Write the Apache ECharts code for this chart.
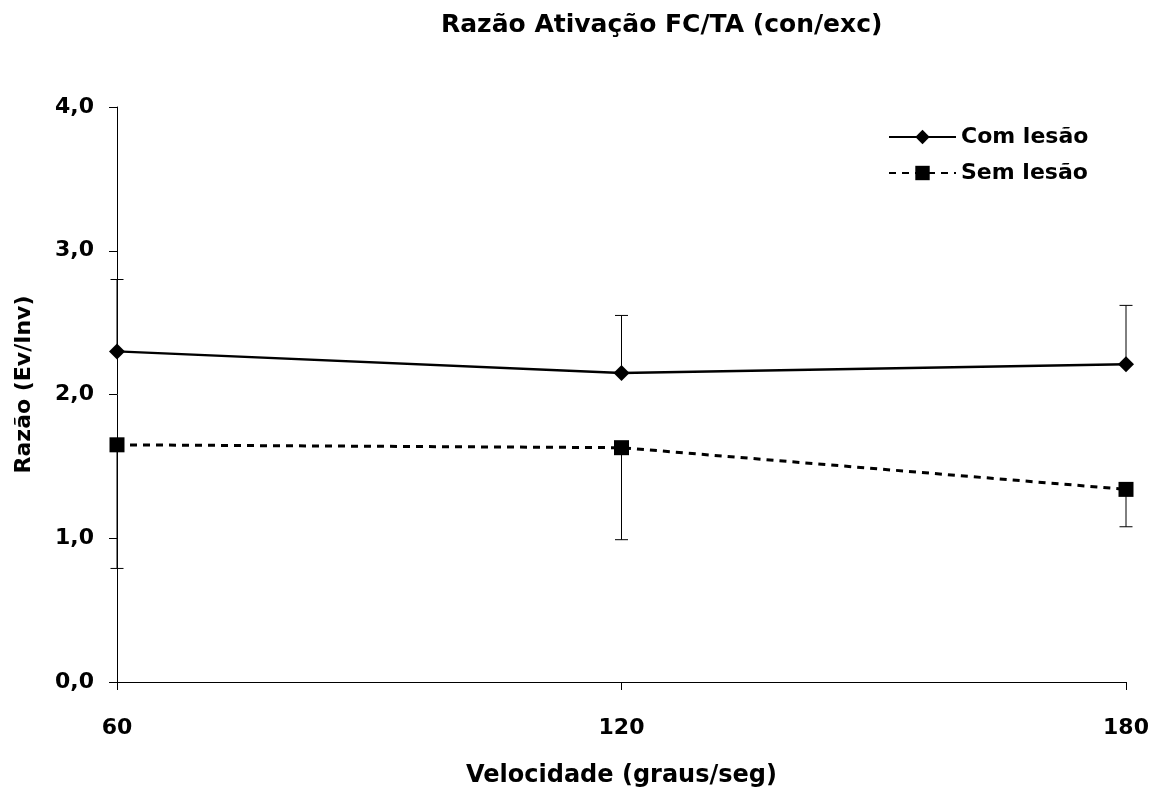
<!DOCTYPE html>
<html>
<head>
<meta charset="utf-8">
<script src="https://cdn.jsdelivr.net/npm/echarts@6/dist/echarts.min.js"></script>
<style>html,body{margin:0;padding:0;background:#fff}#c{width:1157px;height:795px}</style>
</head>
<body>
<div id="c"></div>
<script>
const categories = ['60', '120', '180'];
const comLesao = [2.30, 2.15, 2.21];
const semLesao = [1.65, 1.63, 1.34];
const comErrUp = [0.50, 0.40, 0.41];
const semErrDown = [0.86, 0.64, 0.26];
const yTicks = [0, 1, 2, 3, 4];

const FONT = '"DejaVu Sans", sans-serif';
const chart = echarts.init(document.getElementById('c'));

function errSeries(values, errs, dir) {
  return {
    type: 'custom',
    z: 1,
    silent: true,
    data: values.map((v, i) => [i, v, v + dir * errs[i]]),
    renderItem: function (params, api) {
      const p0 = api.coord([api.value(0), api.value(1)]);
      const p1 = api.coord([api.value(0), api.value(2)]);
      const hw = 6.5;
      const st = { stroke: '#000', lineWidth: 1 };
      return {
        type: 'group',
        children: [
          { type: 'line', shape: { x1: p0[0], y1: p0[1], x2: p1[0], y2: p1[1] }, style: st },
          { type: 'line', shape: { x1: p1[0] - hw, y1: p1[1], x2: p1[0] + hw, y2: p1[1] }, style: st }
        ]
      };
    }
  };
}

chart.setOption({
  animation: false,
  backgroundColor: '#fff',
  textStyle: { fontFamily: FONT },
  title: {
    text: 'Razão Ativação FC/TA (con/exc)',
    left: 436, top: 8,
    textStyle: { fontFamily: FONT, fontSize: 25, fontWeight: 'bold', color: '#000' }
  },
  legend: {
    orient: 'vertical',
    left: 888, top: 126, padding: 0,
    itemWidth: 67, itemHeight: 18, itemGap: 14,
    textStyle: { fontFamily: FONT, fontSize: 22, fontWeight: 'bold', color: '#000' },
    data: ['Com lesão', 'Sem lesão']
  },
  grid: { left: 117, right: 31, top: 107, bottom: 113, containLabel: false },
  xAxis: {
    type: 'category',
    data: categories,
    boundaryGap: false,
    name: 'Velocidade (graus/seg)',
    nameLocation: 'middle',
    nameGap: 82,
    nameTextStyle: { fontFamily: FONT, fontSize: 24, fontWeight: 'bold', color: '#000' },
    axisLine: { lineStyle: { color: '#000', width: 1 } },
    axisTick: { show: true, length: 8, lineStyle: { color: '#000' }, alignWithLabel: true },
    axisLabel: { margin: 35, fontFamily: FONT, fontSize: 22, fontWeight: 'bold', color: '#000' },
    splitLine: { show: false }
  },
  yAxis: {
    type: 'value',
    min: yTicks[0], max: yTicks[yTicks.length - 1], interval: 1,
    name: 'Razão (Ev/Inv)',
    nameLocation: 'middle',
    nameGap: 82,
    nameTextStyle: { fontFamily: FONT, fontSize: 22, fontWeight: 'bold', color: '#000', padding: [0, 0, 0, 20] },
    axisLine: { show: true, lineStyle: { color: '#000', width: 1 } },
    axisTick: { show: true, length: 8, lineStyle: { color: '#000' } },
    axisLabel: {
      margin: 23, fontFamily: FONT, fontSize: 22, fontWeight: 'bold', color: '#000',
      formatter: v => v.toFixed(1).replace('.', ',')
    },
    splitLine: { show: false }
  },
  series: [
    errSeries(comLesao, comErrUp, 1),
    errSeries(semLesao, semErrDown, -1),
    {
      name: 'Com lesão', type: 'line', z: 3,
      data: comLesao,
      symbol: 'diamond', symbolSize: 16,
      itemStyle: { color: '#000' },
      lineStyle: { color: '#000', width: 2.5, type: 'solid' }
    },
    {
      name: 'Sem lesão', type: 'line', z: 3,
      data: semLesao,
      symbol: 'rect', symbolSize: 15,
      itemStyle: { color: '#000' },
      lineStyle: { color: '#000', width: 3, type: [7, 6] }
    }
  ]
});
</script>
</body>
</html>
